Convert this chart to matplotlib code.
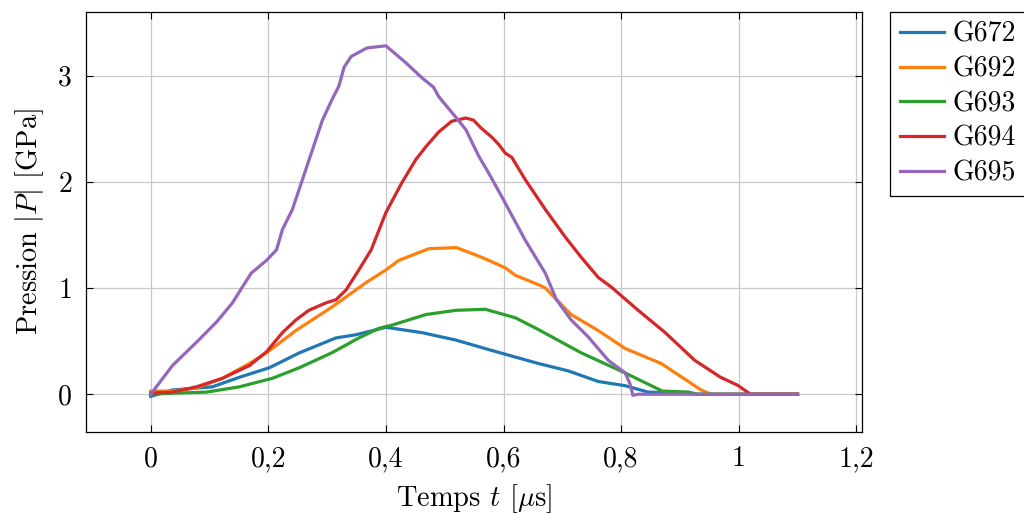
import matplotlib
matplotlib.use("Agg")
import matplotlib.pyplot as plt

plt.rcParams["font.family"] = "cmr10"
plt.rcParams["mathtext.fontset"] = "cm"
plt.rcParams["axes.unicode_minus"] = False
plt.rcParams["axes.formatter.use_mathtext"] = True

# G672
t_672 = [0, 0.037, 0.105, 0.151, 0.202, 0.253, 0.315, 0.349, 0.40, 0.461, 0.519,
         0.575, 0.62, 0.659, 0.71, 0.761, 0.807, 0.846, 0.914, 0.93, 1.1]
p_672 = [-0.02, 0.04, 0.07, 0.16, 0.25, 0.39, 0.53, 0.56, 0.63, 0.58, 0.51,
         0.42, 0.35, 0.29, 0.22, 0.12, 0.08, 0.02, 0.01, 0.0, 0.0]

# G692
t_692 = [0, 0.037, 0.078, 0.122, 0.168, 0.197, 0.247, 0.308, 0.366, 0.40, 0.422,
         0.473, 0.52, 0.558, 0.575, 0.603, 0.62, 0.66, 0.671, 0.715, 0.761,
         0.807, 0.868, 0.936, 0.953, 1.1]
p_692 = [0.03, 0.03, 0.06, 0.15, 0.29, 0.39, 0.60, 0.82, 1.05, 1.17, 1.26,
         1.37, 1.38, 1.30, 1.26, 1.19, 1.12, 1.03, 1.00, 0.75, 0.60,
         0.43, 0.29, 0.04, 0.0, 0.0]

# G693
t_693 = [0, 0.037, 0.095, 0.151, 0.207, 0.253, 0.308, 0.354, 0.388, 0.41, 0.468,
         0.519, 0.569, 0.62, 0.659, 0.732, 0.807, 0.87, 0.915, 0.93, 1.1]
p_693 = [0.0, 0.01, 0.02, 0.07, 0.15, 0.25, 0.39, 0.53, 0.62, 0.65, 0.75,
         0.79, 0.80, 0.72, 0.61, 0.39, 0.20, 0.03, 0.02, 0.0, 0.0]

# G694
t_694 = [0, 0.037, 0.078, 0.122, 0.168, 0.197, 0.224, 0.247, 0.269, 0.298, 0.315,
         0.332, 0.354, 0.375, 0.40, 0.427, 0.451, 0.468, 0.49, 0.512, 0.536,
         0.549, 0.561, 0.58, 0.592, 0.603, 0.614, 0.637, 0.671, 0.705, 0.732,
         0.761, 0.783, 0.829, 0.875, 0.925, 0.969, 0.998, 1.02, 1.1]
p_694 = [0.01, 0.02, 0.07, 0.15, 0.27, 0.40, 0.58, 0.70, 0.79, 0.86, 0.89,
         0.98, 1.17, 1.36, 1.71, 1.99, 2.21, 2.33, 2.47, 2.57, 2.60,
         2.58, 2.51, 2.42, 2.35, 2.27, 2.23, 2.02, 1.74, 1.48, 1.29,
         1.10, 1.01, 0.79, 0.58, 0.32, 0.16, 0.085, 0.0, 0.0]

# G695
t_695 = [0, 0.037, 0.078, 0.112, 0.139, 0.156, 0.171, 0.197, 0.214, 0.224, 0.241,
         0.258, 0.275, 0.292, 0.308, 0.32, 0.329, 0.341, 0.368, 0.40, 0.434,
         0.461, 0.481, 0.49, 0.52, 0.536, 0.558, 0.575, 0.597, 0.637, 0.671,
         0.69, 0.715, 0.744, 0.778, 0.807, 0.815, 0.82, 0.829, 1.1]
p_695 = [0.0, 0.27, 0.49, 0.68, 0.86, 1.01, 1.14, 1.26, 1.36, 1.55, 1.74,
         2.02, 2.30, 2.58, 2.77, 2.90, 3.08, 3.18, 3.26, 3.28, 3.12,
         2.98, 2.89, 2.80, 2.60, 2.49, 2.24, 2.08, 1.86, 1.45, 1.14,
         0.89, 0.70, 0.54, 0.32, 0.20, 0.10, -0.01, 0.0, 0.0]

series = [
    ("G672", t_672, p_672),
    ("G692", t_692, p_692),
    ("G693", t_693, p_693),
    ("G694", t_694, p_694),
    ("G695", t_695, p_695),
]
colors = ["#1f77b4", "#ff7f0e", "#2ca02c", "#d62728", "#9467bd"]

x_ticks = [0, 0.2, 0.4, 0.6, 0.8, 1, 1.2]
x_tick_labels = ["0", "0,2", "0,4", "0,6", "0,8", "1", "1,2"]
y_ticks = [0, 1, 2, 3]

fig = plt.figure(figsize=(10.24, 5.13), dpi=100)
ax = fig.add_axes([0.084, 0.158, 0.758, 0.819])

for (name, t, p), c in zip(series, colors):
    ax.plot(t, p, color=c, linewidth=2.3, label=name,
            solid_joinstyle="round")

ax.set_xlim(-0.11, 1.21)
ax.set_ylim(-0.355, 3.6)
ax.set_xticks(x_ticks)
ax.set_xticklabels(x_tick_labels)
ax.set_yticks(y_ticks)
ax.set_yticklabels([str(v) for v in y_ticks])
ax.tick_params(direction="in", top=True, right=True, length=5, width=0.8,
               labelsize=20, pad=10)
ax.grid(True, color="#c8c8c8", linewidth=0.9)
ax.set_axisbelow(True)
for s in ax.spines.values():
    s.set_linewidth(0.9)

ax.set_xlabel(r"Temps $t$ [$\mu$s]", fontsize=20.5, labelpad=7)
ax.set_ylabel(r"Pression $|P|$ [GPa]", fontsize=20.5, labelpad=9)

leg = ax.legend(loc="upper left", bbox_to_anchor=(1.036, 1.0), fontsize=20,
                fancybox=False, edgecolor="black", framealpha=1,
                handlelength=1.6, handletextpad=0.3, labelspacing=0.3,
                borderaxespad=0, borderpad=0.35)
leg.get_frame().set_linewidth(0.9)

fig.savefig("out.png", dpi=100)
